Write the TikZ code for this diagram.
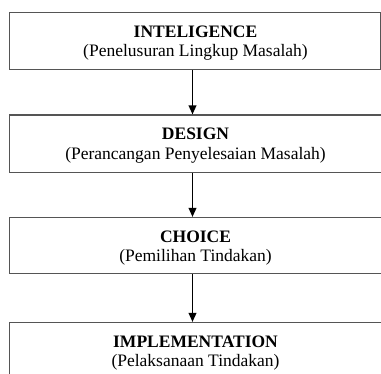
\documentclass[tikz,border=0pt]{standalone}
\usepackage{fontspec}
\setmainfont{Liberation Serif}
\usetikzlibrary{arrows.meta}
\definecolor{boxline}{RGB}{85,85,85}
\begin{document}
\begin{tikzpicture}[x=1pt,y=-1pt,
  box/.style={draw=boxline,line width=1.4pt,rectangle,anchor=north west,inner sep=0pt},
  ttl/.style={font=\fontsize{17.5}{19.5}\selectfont\bfseries,anchor=base,inner sep=0pt},
  sub/.style={font=\fontsize{17.5}{19.5}\selectfont,anchor=base,inner sep=0pt},
  flow/.style={line width=1.8pt,-{Triangle[length=9pt,width=7.5pt]}}]
\useasboundingbox (0,0) rectangle (381,374);
% boxes
\node[box,minimum width=371pt,minimum height=57pt] (b1) at (9,12) {};
\node[box,minimum width=373pt,minimum height=57.5pt] (b2) at (9,114.5) {};
\node[box,minimum width=373pt,minimum height=56pt] (b3) at (9,217) {};
\node[box,minimum width=373pt,minimum height=62pt] (b4) at (9,322) {};
% texts
\node[ttl] (t1) at (195.5,37.5) {INTELIGENCE};
\node[sub] (s1) at (195.5,57) {(Penelusuran Lingkup Masalah)};
\node[ttl] (t2) at (195.5,140) {DESIGN};
\node[sub] (s2) at (195.5,159.5) {(Perancangan Penyelesaian Masalah)};
\node[ttl] (t3) at (195.5,242.5) {CHOICE};
\node[sub] (s3) at (195.5,262) {(Pemilihan Tindakan)};
\node[ttl] (t4) at (195.5,347.5) {IMPLEMENTATION};
\node[sub] (s4) at (195.5,367) {(Pelaksanaan Tindakan)};
% arrows
\coordinate (ax) at (192.5,0);
\draw[flow] (b1.south -| ax) -- (b2.north -| ax);
\draw[flow] (b2.south -| ax) -- (b3.north -| ax);
\draw[flow] (b3.south -| ax) -- (b4.north -| ax);
\end{tikzpicture}
\end{document}
